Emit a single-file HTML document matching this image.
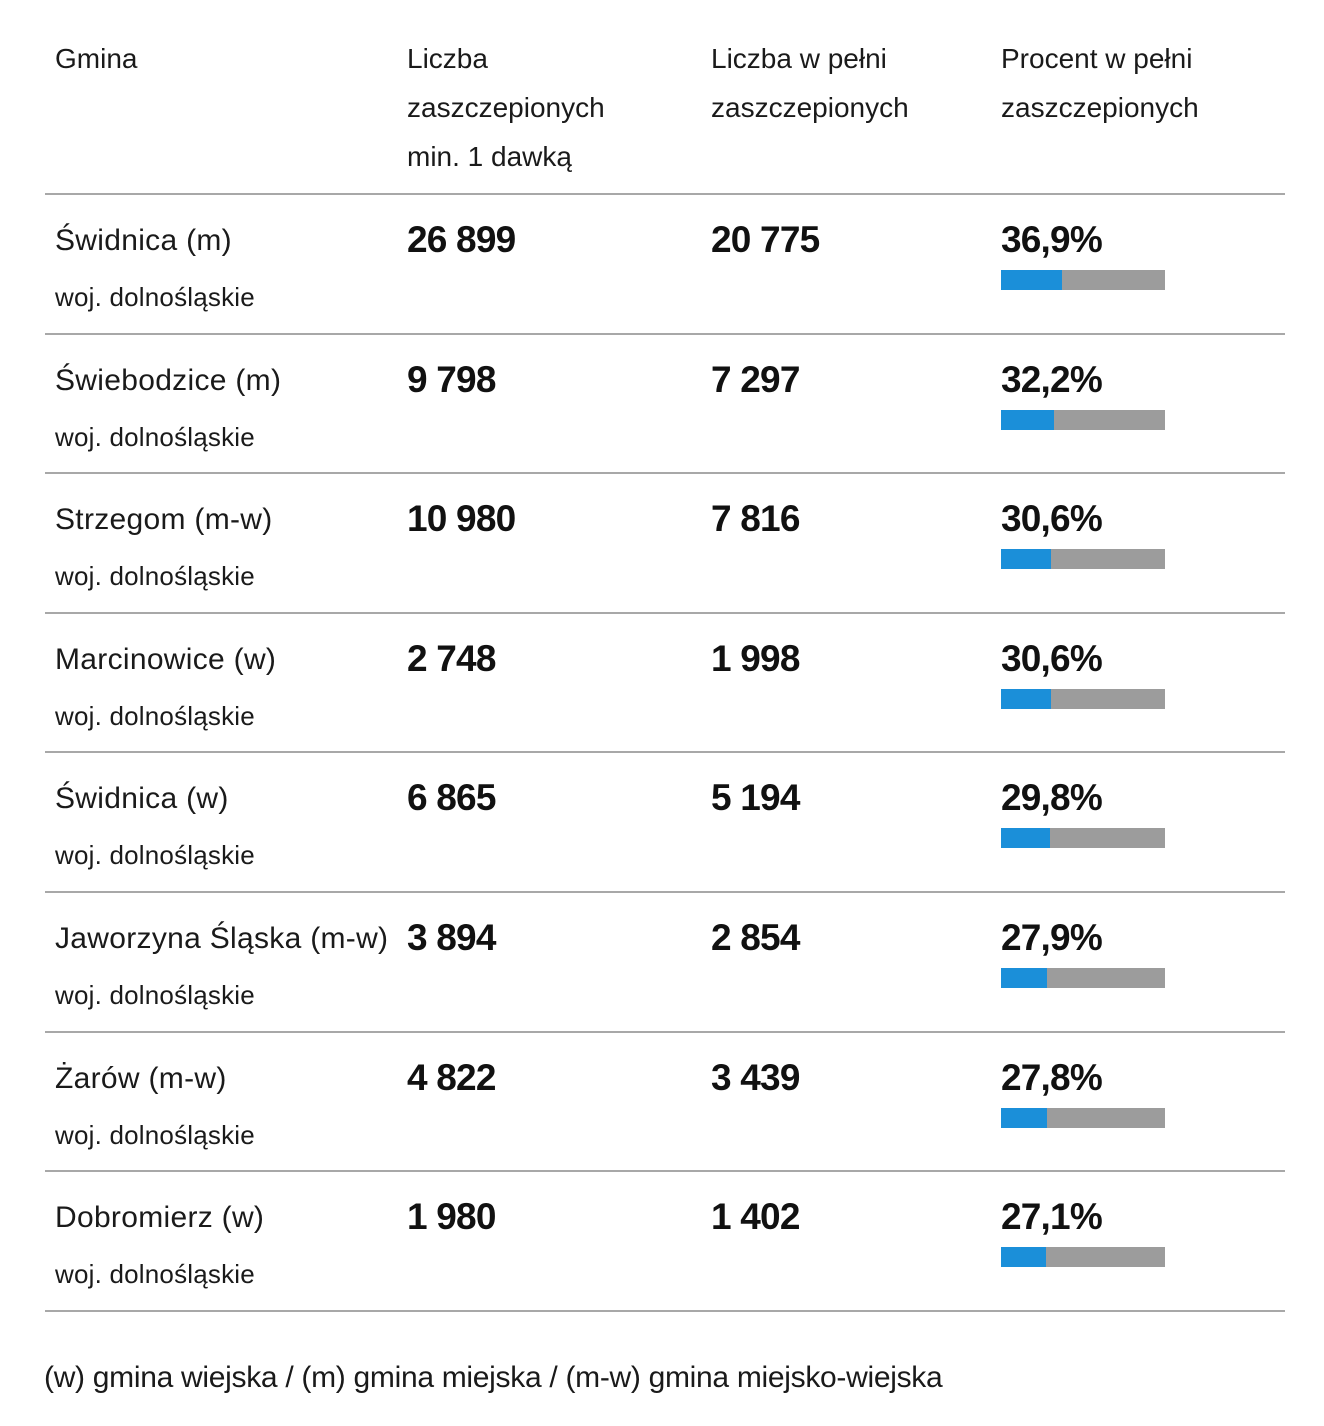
<!DOCTYPE html>
<html><head><meta charset="utf-8"><style>
body{margin:0;width:1324px;height:1426px;background:#fff;font-family:"Liberation Sans",sans-serif;color:#1a1a1a;position:relative;overflow:hidden}
.a{position:absolute;white-space:nowrap}
.h{font-size:28px;line-height:49px;top:34px;letter-spacing:0px}
.line{position:absolute;left:45px;width:1240px;height:2px;background:#a8a8a8}
.n{font-size:30px;letter-spacing:0.3px}
.w{font-size:26px;letter-spacing:0.2px}
.b{font-size:37px;font-weight:bold;letter-spacing:-0.8px;color:#111}
.bar{position:absolute;left:1001px;width:164px;height:20px;background:#9c9c9c}
.bar i{display:block;height:100%;background:#1b8fd9}
</style></head><body>
<div class="a h" style="left:55px">Gmina</div>
<div class="a h" style="left:407px">Liczba<br>zaszczepionych<br>min. 1 dawką</div>
<div class="a h" style="left:711px">Liczba w pełni<br>zaszczepionych</div>
<div class="a h" style="left:1001px">Procent w pełni<br>zaszczepionych</div>
<div id="rows"></div>
<div class="a" style="left:44px;top:1361px;font-size:30px;letter-spacing:-0.3px">(w) gmina wiejska / (m) gmina miejska / (m-w) gmina miejsko-wiejska</div>
<script>
var d=[["Świdnica (m)","26 899","20 775","36,9%",36.9],["Świebodzice (m)","9 798","7 297","32,2%",32.2],["Strzegom (m-w)","10 980","7 816","30,6%",30.6],["Marcinowice (w)","2 748","1 998","30,6%",30.6],["Świdnica (w)","6 865","5 194","29,8%",29.8],["Jaworzyna Śląska (m-w)","3 894","2 854","27,9%",27.9],["Żarów (m-w)","4 822","3 439","27,8%",27.8],["Dobromierz (w)","1 980","1 402","27,1%",27.1]];
var h='';
for(var i=0;i<9;i++){h+='<div class="line" style="top:'+Math.round(193+i*139.6)+'px"></div>';}
d.forEach(function(r,i){var y=193+i*139.6;
h+='<div class="a n" style="left:55px;top:'+(y+31)+'px">'+r[0]+'</div>';
h+='<div class="a w" style="left:55px;top:'+(y+89)+'px">woj. dolnośląskie</div>';
h+='<div class="a b" style="left:407px;top:'+(y+26)+'px">'+r[1]+'</div>';
h+='<div class="a b" style="left:711px;top:'+(y+26)+'px">'+r[2]+'</div>';
h+='<div class="a b" style="left:1001px;top:'+(y+26)+'px">'+r[3]+'</div>';
h+='<div class="bar" style="top:'+(y+77)+'px"><i style="width:'+(r[4]*1.65)+'px"></i></div>';});
document.getElementById('rows').innerHTML=h;
</script>
</body></html>
